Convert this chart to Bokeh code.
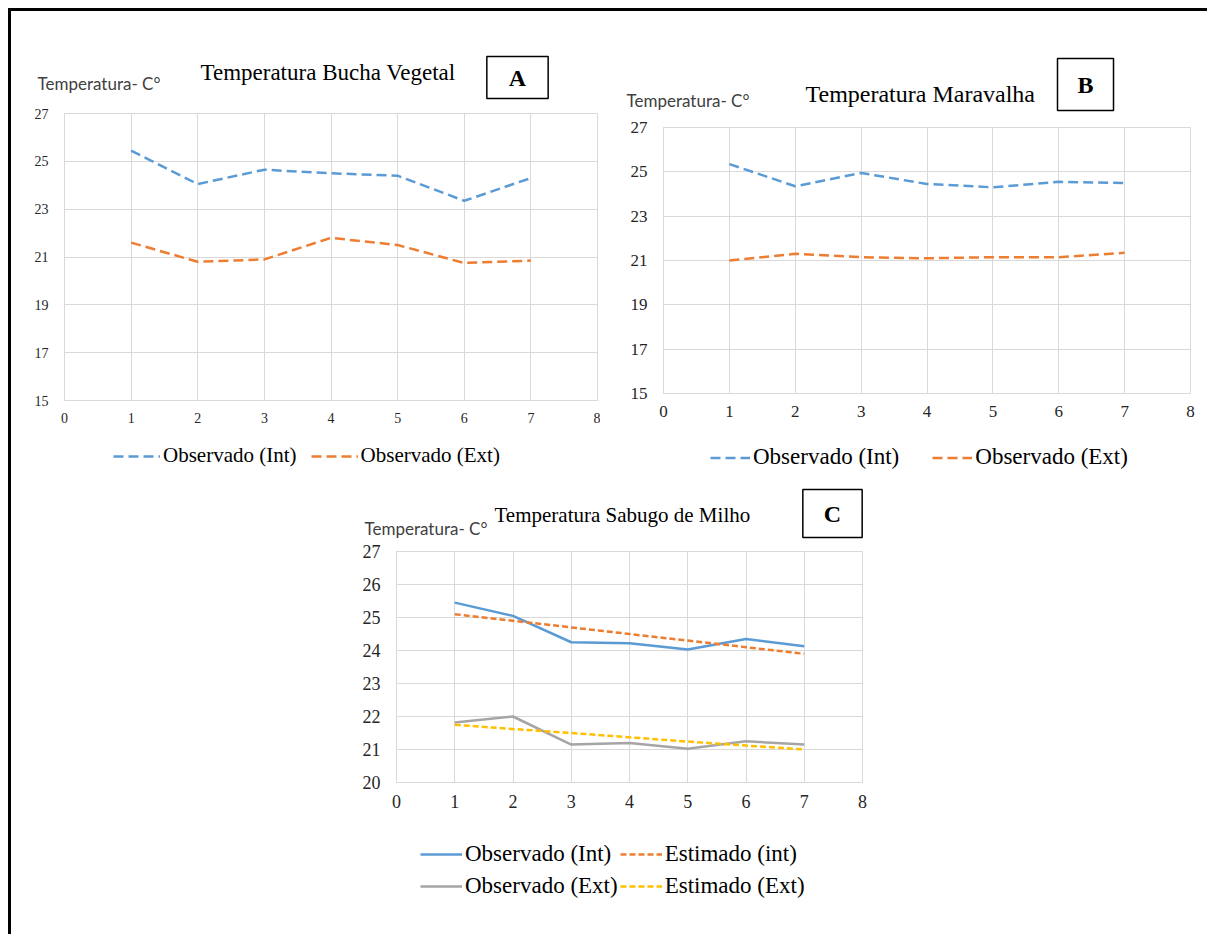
from bokeh.plotting import figure
from bokeh.models import Range1d, FixedTicker, Label, Legend, LegendItem, Spacer
from bokeh.layouts import row, column
from bokeh.embed import file_html
from bokeh.resources import INLINE

# ---------------- data ----------------
days = [1, 2, 3, 4, 5, 6, 7]
x_ticks = [0, 1, 2, 3, 4, 5, 6, 7, 8]
y_ticks_ab = [15, 17, 19, 21, 23, 25, 27]
y_ticks_c = [20, 21, 22, 23, 24, 25, 26, 27]

a_obs_int = [25.45, 24.05, 24.65, 24.5, 24.4, 23.35, 24.3]
a_obs_ext = [21.6, 20.8, 20.9, 21.8, 21.5, 20.75, 20.85]

b_obs_int = [25.35, 24.35, 24.95, 24.45, 24.3, 24.55, 24.5]
b_obs_ext = [21.0, 21.3, 21.15, 21.1, 21.15, 21.15, 21.35]

c_obs_int = [25.45, 25.05, 24.25, 24.22, 24.03, 24.35, 24.13]
c_est_int = [25.1, 24.9, 24.7, 24.5, 24.3, 24.1, 23.9]
c_obs_ext = [21.82, 22.0, 21.15, 21.2, 21.02, 21.25, 21.15]
c_est_ext = [21.75, 21.62, 21.5, 21.37, 21.24, 21.12, 21.0]

titles = ["Temperatura Bucha Vegetal", "Temperatura Maravalha", "Temperatura Sabugo de Milho"]
panel_letters = ["A", "B", "C"]
y_label = "Temperatura- C°"
labels_ab = ["Observado (Int)", "Observado (Ext)"]
labels_c = ["Observado (Int)", "Estimado (int)", "Observado (Ext)", "Estimado (Ext)"]

# ---------------- style ----------------
SERIF = "Liberation Serif"
SANS = "Lato"
GRID = "#D9D9D9"
BLUE = "#5B9BD5"
ORANGE = "#ED7D31"
GRAY = "#A5A5A5"
YELLOW = "#FFC000"
DASH_AB = "10 5"
DASH_C = "6 3"
SOLID = "solid"


def make_fig(width, height, left, right, top, bottom, ymin, ymax, yticks, tick_size):
    p = figure(width=width, height=height, x_range=Range1d(0, 8), y_range=Range1d(ymin, ymax),
               output_backend="svg", toolbar_location=None,
               min_border_left=left, min_border_right=right,
               min_border_top=top, min_border_bottom=bottom)
    p.xaxis.ticker = FixedTicker(ticks=x_ticks)
    p.yaxis.ticker = FixedTicker(ticks=yticks)
    for ax in (p.xaxis, p.yaxis):
        ax.axis_line_color = GRID
        ax.major_tick_line_color = None
        ax.minor_tick_line_color = None
        ax.major_label_text_font = SERIF
        ax.major_label_text_font_size = f"{tick_size}px"
        ax.major_label_text_color = "#262626"
    p.xaxis.major_label_standoff = 6
    p.yaxis.major_label_standoff = 10
    p.grid.grid_line_color = GRID
    p.grid.grid_line_width = 1
    p.outline_line_color = GRID
    p.background_fill_color = "white"
    p.border_fill_color = "white"
    return p


def blank(width, height, x_range, y_range):
    h = figure(width=width, height=height, x_range=x_range, y_range=y_range,
               output_backend="svg", toolbar_location=None,
               x_axis_location=None, y_axis_location=None,
               min_border_left=0, min_border_right=0, min_border_top=0, min_border_bottom=0)
    h.grid.visible = False
    h.outline_line_color = None
    h.background_fill_color = "white"
    h.border_fill_color = "white"
    return h


def make_header(width, height, ylab_xy, title_xy, title_size, box_xy, letter, title, pad_x, pad_y):
    h = blank(width, height, Range1d(0, width), Range1d(0, height))
    h.add_layout(Label(x=ylab_xy[0], y=ylab_xy[1],
                       text=y_label, text_font=SANS, text_font_size="17px",
                       text_color="#404040", text_align="left", text_baseline="middle"))
    h.add_layout(Label(x=title_xy[0], y=title_xy[1],
                       text=title, text_font=SERIF, text_font_size=f"{title_size}px",
                       text_color="black", text_align="left", text_baseline="middle"))
    h.add_layout(Label(x=box_xy[0], y=box_xy[1],
                       text=letter, text_font=SERIF, text_font_size="24px", text_font_style="bold",
                       text_color="black", text_align="center", text_baseline="middle",
                       border_line_color="black", border_line_width=1.5,
                       background_fill_color="white",
                       padding=dict(left=pad_x, right=pad_x, top=pad_y, bottom=pad_y)))
    return h


def make_footer(width, height, series, x_off, y_off, glyph_w, row_h, font_size, spacing, ncols=None):
    # legend strip: the series are drawn again here only to give the legend its keys;
    # the strip's y range lies far above the data, so the lines themselves stay out of view
    f = blank(width, height, Range1d(0, 8), Range1d(100, 101))
    items = []
    for label, ys, color, dash in series:
        r = f.line(x=days, y=ys, line_color=color, line_width=2.5, line_dash=dash)
        items.append(LegendItem(label=label, renderers=[r]))
    kw = dict(items=items, orientation="horizontal", location=(x_off, y_off), margin=0,
              padding=0, spacing=spacing, glyph_width=glyph_w, glyph_height=row_h,
              label_height=row_h, label_standoff=3, label_text_font=SERIF,
              label_text_font_size=f"{font_size}px", label_text_color="black",
              border_line_color=None, background_fill_alpha=0)
    if ncols:
        kw["ncols"] = ncols
    f.add_layout(Legend(**kw))
    return f


# ---------------- panel A ----------------
hA = make_header(589, 89, (26, 17), (189, 28), 23, (506, 23), panel_letters[0], titles[0], 22, 8)
pA = make_fig(589, 330, 53, 3, 13, 30, 15, 27, y_ticks_ab, 14)
pA.line(days, a_obs_int, line_color=BLUE, line_width=2.5, line_dash=DASH_AB)
pA.line(days, a_obs_ext, line_color=ORANGE, line_width=2.5, line_dash=DASH_AB)
fA = make_footer(589, 50, [(labels_ab[0], a_obs_int, BLUE, DASH_AB),
                           (labels_ab[1], a_obs_ext, ORANGE, DASH_AB)],
                 102, 12, 47, 24, 21, 14)

# ---------------- panel B ----------------
hB = make_header(607, 102, (26, 13), (205, 20), 24, (485, 29), panel_letters[1], titles[1], 20, 13)
pB = make_fig(607, 310, 63, 17, 14, 30, 15, 27, y_ticks_ab, 17)
pB.line(days, b_obs_int, line_color=BLUE, line_width=2.5, line_dash=DASH_AB)
pB.line(days, b_obs_ext, line_color=ORANGE, line_width=2.5, line_dash=DASH_AB)
fB = make_footer(607, 57, [(labels_ab[0], b_obs_int, BLUE, DASH_AB),
                           (labels_ab[1], b_obs_ext, ORANGE, DASH_AB)],
                 110, 10, 40, 25, 23, 33)

# ---------------- panel C ----------------
hC = make_header(542, 61, (24, 13), (154, 27), 21, (492, 28), panel_letters[2], titles[2], 21, 11)
pC = make_fig(542, 271, 56, 20, 10, 30, 20, 27, y_ticks_c, 18)
pC.line(days, c_obs_int, line_color=BLUE, line_width=2.5)
pC.line(days, c_est_int, line_color=ORANGE, line_width=2.5, line_dash=DASH_C)
pC.line(days, c_obs_ext, line_color=GRAY, line_width=2.5)
pC.line(days, c_est_ext, line_color=YELLOW, line_width=2.5, line_dash=DASH_C)
fC = make_footer(542, 122, [(labels_c[0], c_obs_int, BLUE, SOLID),
                            (labels_c[1], c_est_int, ORANGE, DASH_C),
                            (labels_c[2], c_obs_ext, GRAY, SOLID),
                            (labels_c[3], c_est_ext, YELLOW, DASH_C)],
                 80, 33, 42, 30, 23, 2, ncols=2)

colA = column(column(hA), column(pA), column(fA))
colB = column(column(hB), column(pB), column(fB))
colC = column(column(hC), column(pC), column(fC))

layout = column(row(colA, colB), row(Spacer(width=329, height=10), colC),
                margin=(8, 0, 0, 8),
                styles={"border-left": "3px solid black", "border-top": "3px solid black"})

open("out.html", "w").write(file_html(layout, INLINE))
